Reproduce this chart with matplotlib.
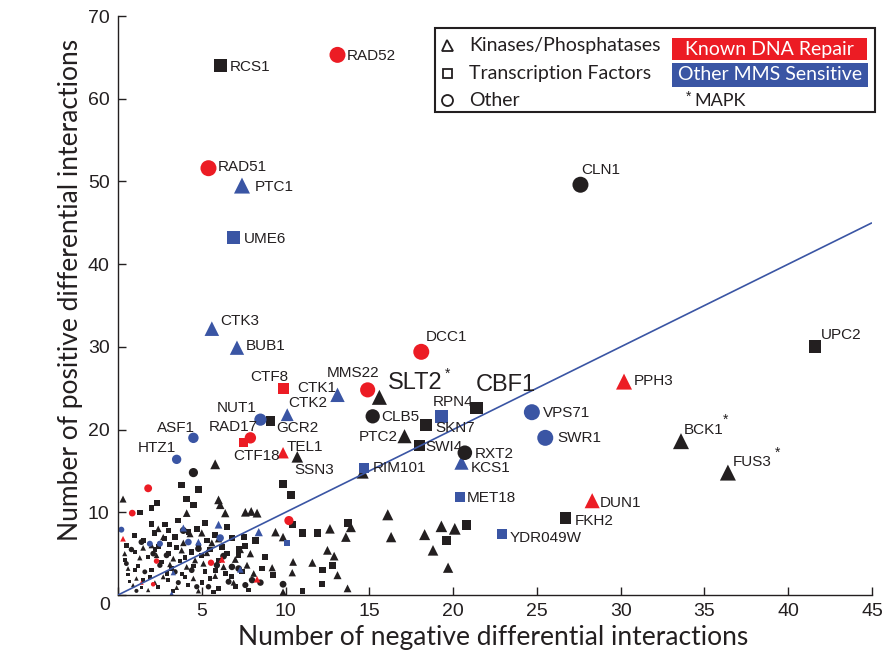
import numpy as np
import matplotlib
matplotlib.use("Agg")
import matplotlib.pyplot as plt
from matplotlib.patches import Rectangle

RED = "#ec1c24"
BLUE = "#3a55a4"
BLACK = "#231f20"
COLORS = {"k": BLACK, "r": RED, "b": BLUE}

# ---------------- labeled genes ----------------
gene_names = ["RCS1", "RAD52", "RAD51", "PTC1", "UME6", "CLN1", "CTK3", "BUB1", "DCC1", "UPC2",
              "PPH3", "CTF8", "MMS22", "SLT2", "CTK1", "CBF1", "RPN4", "VPS71", "CLB5", "SKN7",
              "NUT1", "CTK2", "GCR2", "SWR1", "BCK1", "FUS3", "PTC2", "SWI4", "ASF1", "RAD17",
              "HTZ1", "CTF18", "TEL1", "SSN3", "RXT2", "KCS1", "RIM101", "MET18", "DUN1", "FKH2",
              "YDR049W"]
gene_neg = [6.1, 13.1, 5.4, 7.4, 6.9, 27.6, 5.6, 7.1, 18.1, 41.6,
            30.2, 9.85, 14.9, 15.6, 13.1, 21.4, 19.3, 24.7, 15.2, 18.4,
            8.5, 10.1, 9.1, 25.5, 33.6, 36.4, 17.1, 18.0, 4.5, 7.9,
            3.5, 7.5, 9.85, 10.7, 20.7, 20.5, 14.7, 20.4, 28.3, 26.7,
            22.9]
gene_pos = [64.0, 65.3, 51.6, 49.5, 43.2, 49.6, 32.2, 29.9, 29.4, 30.0,
            25.8, 25.0, 24.8, 23.9, 24.2, 22.6, 21.6, 22.1, 21.6, 20.6,
            21.2, 21.8, 21.0, 19.0, 18.6, 14.8, 19.2, 18.1, 19.0, 19.0,
            16.4, 18.4, 17.2, 16.7, 17.2, 16.0, 15.4, 11.85, 11.4, 9.3,
            7.4]
gene_shape = ["s", "o", "o", "^", "s", "o", "^", "^", "o", "s",
              "^", "s", "o", "^", "^", "s", "s", "o", "o", "s",
              "o", "^", "s", "o", "^", "^", "^", "s", "o", "o",
              "o", "s", "^", "^", "o", "^", "s", "s", "^", "s",
              "s"]
gene_class = ["k", "r", "r", "b", "b", "k", "b", "b", "r", "k",
              "r", "r", "r", "k", "b", "k", "b", "b", "k", "k",
              "b", "b", "k", "b", "k", "k", "k", "k", "b", "r",
              "b", "r", "r", "k", "k", "b", "b", "b", "r", "k",
              "b"]
mapk_genes = ["SLT2", "BCK1", "FUS3"]

# ---------------- other (unlabeled) genes ----------------
# black triangles
ktri_neg = [0.3, 5.8, 6.0, 6.1, 6.4, 4.1, 7.6, 7.95, 8.3, 9.4, 9.85, 12.65, 13.6, 13.9, 12.5, 12.9,
            13.1, 13.7, 11.6, 10.45, 10.4, 9.85, 14.6, 16.1, 16.3, 18.3, 19.3, 20.1, 18.8, 19.7, 9.2,
            0.6, 1.3, 2.0, 2.7, 3.3, 3.9, 4.5, 5.1, 5.6, 6.3, 7.0, 7.7, 1.8, 3.5, 4.8, 0.9, 2.4, 4.3,
            1.5, 2.3, 3.8, 4.6, 5.3, 6.0, 7.3, 1.1, 2.2, 3.1, 4.1, 5.8, 6.9, 8.1, 0.4, 2.7, 5.0, 7.9]
ktri_pos = [11.6, 15.8, 11.5, 10.9, 9.9, 9.9, 10.0, 10.1, 9.9, 7.6, 7.0, 8.0, 7.0, 8.2, 5.4, 4.7,
            2.4, 0.8, 3.9, 4.0, 2.7, 0.4, 14.8, 9.7, 7.0, 7.3, 8.3, 8.0, 5.4, 3.3, 3.3,
            3.2, 4.5, 6.0, 2.2, 4.4, 6.3, 2.0, 3.8, 6.3, 3.4, 4.3, 3.6, 0.6, 0.9, 0.5, 1.2, 8.0, 7.4,
            5.7, 4.8, 5.4, 4.2, 5.1, 6.8, 5.5, 2.0, 1.5, 3.7, 3.4, 2.3, 1.5, 2.6, 5.0, 7.0, 7.5, 5.0]
# black squares
ksq_neg = [3.8, 4.8, 9.85, 10.3, 2.3, 2.0, 4.1, 4.5, 1.3, 10.4, 11.0, 11.9, 13.7, 12.2, 12.8, 12.2,
           11.0, 9.25, 19.6, 20.8, 8.2, 7.6, 7.2, 6.8, 5.2, 4.2,
           0.5, 1.0, 1.5, 2.2, 2.8, 3.0, 3.5, 4.0, 4.4, 5.0, 5.5, 6.0, 6.5, 1.2, 2.0, 2.6, 3.2, 3.8,
           4.5, 5.2, 5.8, 6.8, 0.6, 1.5, 2.4, 3.0, 4.2, 5.0, 6.0, 7.0, 0.4, 2.2, 3.4, 1.0, 5.8, 6.5,
           7.5, 3.6, 2.8,
           1.8, 2.4, 3.1, 3.7, 4.8, 5.3, 6.2, 7.2, 1.0, 1.9, 2.9, 4.0, 5.5, 6.4, 7.4, 0.7, 1.4, 3.3,
           5.7, 7.8, 8.6, 8.8, 2.0, 4.7, 3.0]
ksq_pos = [13.3, 12.7, 13.4, 12.1, 11.1, 10.5, 11.6, 10.9, 10.0, 8.5, 7.5, 7.5, 8.7, 3.0, 3.6, 1.3,
           0.5, 2.4, 6.6, 8.5, 6.6, 5.9, 5.6, 6.9, 8.7, 7.6,
           6.0, 5.2, 6.6, 5.5, 6.8, 5.0, 5.8, 4.5, 5.2, 4.8, 5.5, 4.2, 5.0, 3.5, 3.0, 4.0, 3.2, 2.5,
           3.5, 2.8, 3.0, 2.2, 2.5, 1.8, 1.0, 1.8, 1.2, 1.5, 0.8, 1.0, 4.2, 7.5, 7.0, 7.2, 7.2, 8.2,
           7.0, 9.0, 8.5,
           4.6, 5.9, 6.1, 4.1, 6.0, 6.6, 5.8, 4.8, 3.0, 2.2, 2.6, 2.2, 2.0, 2.6, 2.8, 1.6, 0.9, 0.5,
           0.4, 0.6, 3.2, 4.6, 8.6, 8.0, 7.8]
# black circles
kcir_neg = [4.5, 9.85, 4.8, 8.0, 0.8, 1.6, 2.9, 3.6, 4.4, 5.4, 6.6, 7.6, 1.1, 2.5, 6.8,
            1.4, 2.1, 3.4, 4.7, 5.9, 7.2, 0.5, 3.9, 6.3, 8.5]
kcir_pos = [14.8, 1.3, 5.6, 1.8, 5.5, 2.8, 4.8, 1.5, 3.0, 1.0, 1.6, 1.2, 0.5, 3.6, 3.4,
            6.4, 5.0, 2.8, 1.0, 3.6, 3.2, 3.8, 7.8, 4.7, 1.5]
# red (known DNA repair)
rcir_neg = [1.8, 0.85, 10.2, 5.55, 2.3, 2.1]
rcir_pos = [12.9, 9.9, 9.0, 3.9, 4.1, 1.3]
rtri_neg = [6.2, 8.3, 0.3, 1.4]
rtri_pos = [4.3, 1.9, 6.8, 1.5]
# blue (other MMS sensitive)
bcir_neg = [0.2, 1.9, 2.5, 4.2, 6.1]
bcir_pos = [7.9, 6.2, 6.2, 6.4, 6.9]
btri_neg = [3.9, 4.8, 6.0, 8.4, 7.3, 3.3, 3.2]
btri_pos = [8.1, 6.4, 8.5, 7.6, 3.1, 2.7, 0.2]
bsq_neg = [10.1]
bsq_pos = [6.3]

fit_slope = 1.0

# ---------------- figure ----------------
W, H = 893, 659
fig = plt.figure(figsize=(W / 100, H / 100), dpi=100)
AX_L, AX_R, AX_T, AX_B = 118, 872, 16, 595
ax = fig.add_axes([AX_L / W, 1 - AX_B / H, (AX_R - AX_L) / W, (AX_B - AX_T) / H])
ax.set_xlim(0, 45)
ax.set_ylim(0, 70)


def marker_px(x, y, shape):
    d = min(3.6 + 0.29 * (x + y), 16.0)
    if shape == "s":
        d *= 0.8
    return d


def scatter_group(xs, ys, shape, cls, zorder, min_px=0.0):
    px = np.array([max(marker_px(x, y, shape), min_px) for x, y in zip(xs, ys)])
    ax.scatter(xs, ys, marker=shape, s=(px * 0.72) ** 2, c=COLORS[cls], linewidths=0,
               zorder=zorder, clip_on=False)


scatter_group(ktri_neg, ktri_pos, "^", "k", 2)
scatter_group(ksq_neg, ksq_pos, "s", "k", 2)
scatter_group(kcir_neg, kcir_pos, "o", "k", 2)
scatter_group(rcir_neg, rcir_pos, "o", "r", 2)
scatter_group(rtri_neg, rtri_pos, "^", "r", 2)
scatter_group(bcir_neg, bcir_pos, "o", "b", 2)
scatter_group(btri_neg, btri_pos, "^", "b", 2)
scatter_group(bsq_neg, bsq_pos, "s", "b", 2)

for sh in ["^", "s", "o"]:
    for c in ["k", "r", "b"]:
        idx = [i for i in range(len(gene_names)) if gene_shape[i] == sh and gene_class[i] == c]
        if idx:
            scatter_group([gene_neg[i] for i in idx], [gene_pos[i] for i in idx], sh, c, 3,
                          min_px=9.0)

xx = np.array(ax.get_xlim())
ax.plot(xx, fit_slope * xx, color=BLUE, lw=1.2, zorder=4, solid_capstyle="butt")

# label placement (pixel offsets from marker, horizontal alignment)
label_style = {
    "RCS1": (10, -1, "left"), "RAD52": (9, -1, "left"), "RAD51": (9, 1, "left"),
    "PTC1": (13, -1, "left"), "UME6": (10, -1, "left"), "CLN1": (1, 15, "left"),
    "CTK3": (8, 8, "left"), "BUB1": (9, 2, "left"), "DCC1": (4, 15, "left"),
    "UPC2": (6, 12, "left"), "PPH3": (10, 1, "left"), "CTF8": (5, 11, "right"),
    "MMS22": (-15, 17, "center"), "SLT2": (9, 14, "left"), "CTK1": (-1, 7, "right"),
    "CBF1": (-1, 23, "left"), "RPN4": (-9, 14, "left"), "VPS71": (11, -1, "left"),
    "CLB5": (9, -1, "left"), "SKN7": (9, -3, "left"), "NUT1": (-4, 12, "right"),
    "CTK2": (1, 12, "left"), "GCR2": (6, -7, "left"), "SWR1": (12, 0, "left"),
    "BCK1": (3, 11, "left"), "FUS3": (5, 11, "left"), "PTC2": (-7, -1, "right"),
    "SWI4": (6, -2, "left"), "ASF1": (2, 10, "right"), "RAD17": (-17, 11, "center"),
    "HTZ1": (-1, 11, "right"), "CTF18": (13, -13, "center"), "TEL1": (4, 6, "left"),
    "SSN3": (-3, -13, "left"), "RXT2": (10, -1, "left"), "KCS1": (9, -5, "left"),
    "RIM101": (8, 0, "left"), "MET18": (7, -1, "left"), "DUN1": (8, -2, "left"),
    "FKH2": (9, -3, "left"), "YDR049W": (8, -4, "left"),
}
big_labels = {"SLT2": 17, "CBF1": 17}
star_offset = {"SLT2": (68, 24), "BCK1": (45, 21), "FUS3": (50, 20)}

LABEL_FONT = ["Liberation Sans", "DejaVu Sans"]
for name, x, y in zip(gene_names, gene_neg, gene_pos):
    dx, dy, ha = label_style[name]
    ax.annotate(name, (x, y), xytext=(dx, dy), textcoords="offset pixels",
                ha=ha, va="center", fontsize=big_labels.get(name, 11),
                family=LABEL_FONT, color=BLACK, zorder=5)
    if name in mapk_genes:
        sx, sy = star_offset[name]
        ax.annotate("*", (x, y), xytext=(sx, sy), textcoords="offset pixels",
                    ha="center", va="center", fontsize=10, family=LABEL_FONT,
                    color=BLACK, zorder=5)

# ---------------- axes styling ----------------
for s in ["top", "right"]:
    ax.spines[s].set_visible(False)
for s in ["left", "bottom"]:
    ax.spines[s].set_linewidth(1.0)
    ax.spines[s].set_color(BLACK)

TICK_FONT = ["Liberation Sans Narrow", "Liberation Sans", "DejaVu Sans"]
xt = np.arange(0, 46, 5)
yt = np.arange(0, 71, 10)
ax.set_xticks(xt)
ax.set_yticks(yt)
ax.set_xticklabels([""] + [str(v) for v in xt[1:]])
ax.set_yticklabels([""] + [str(v) for v in yt[1:]])
ax.tick_params(direction="in", length=6, width=1.0, color=BLACK, labelsize=14,
               labelcolor=BLACK)
ax.tick_params(axis="x", pad=6)
ax.tick_params(axis="y", pad=6)
for lab in ax.get_xticklabels() + ax.get_yticklabels():
    lab.set_family(TICK_FONT)
ax.annotate("0", (0, 0), xytext=(-13, -10), textcoords="offset pixels", ha="center",
            va="center", fontsize=14, family=TICK_FONT, color=BLACK)

AXLAB_FONT = ["Lato", "DejaVu Sans"]
ax.set_xlabel("Number of negative differential interactions", fontsize=19,
              family=AXLAB_FONT, color=BLACK)
ax.xaxis.set_label_coords(0.497, -0.052)
ax.set_ylabel("Number of positive differential interactions", fontsize=19,
              family=AXLAB_FONT, color=BLACK)
ax.yaxis.set_label_coords(-0.047, 0.527)


# ---------------- legend ----------------
def fx(px):
    return (px - AX_L) / (AX_R - AX_L)


def fy(py):
    return (AX_B - py) / (AX_B - AX_T)


tr = ax.transAxes
ax.add_patch(Rectangle((fx(435), fy(112)), fx(875) - fx(435), fy(28) - fy(112),
                       transform=tr, fill=False, ec=BLACK, lw=1.5, clip_on=False, zorder=6))
leg_items = [("^", "Kinases/Phosphatases", 45), ("s", "Transcription Factors", 73),
             ("o", "Other", 100)]
for mk, txt, py in leg_items:
    ax.plot([fx(447)], [fy(py)], marker=mk, ms=11 * 0.72 if mk != "s" else 9 * 0.72,
            mfc="white", mec=BLACK, mew=1.3, transform=tr, clip_on=False, zorder=7)
    ax.text(fx(469), fy(py), txt, transform=tr, ha="left", va="center", fontsize=14,
            family=AXLAB_FONT, color=BLACK, zorder=7)
ax.add_patch(Rectangle((fx(672), fy(60)), fx(867) - fx(672), fy(38) - fy(60),
                       transform=tr, fc=RED, ec="none", clip_on=False, zorder=6))
ax.text(fx(769.5), fy(49), "Known DNA Repair", transform=tr, ha="center", va="center",
        fontsize=14, family=AXLAB_FONT, color="white", zorder=7)
ax.add_patch(Rectangle((fx(672), fy(87)), fx(868) - fx(672), fy(63) - fy(87),
                       transform=tr, fc=BLUE, ec="none", clip_on=False, zorder=6))
ax.text(fx(770), fy(75), "Other MMS Sensitive", transform=tr, ha="center", va="center",
        fontsize=14, family=AXLAB_FONT, color="white", zorder=7)
ax.text(fx(689), fy(97), "*", transform=tr, ha="center", va="center", fontsize=10,
        family=LABEL_FONT, color=BLACK, zorder=7)
ax.text(fx(694), fy(101), "MAPK", transform=tr, ha="left", va="center", fontsize=13,
        family=AXLAB_FONT, color=BLACK, zorder=7)

fig.savefig("out.png", dpi=100)
